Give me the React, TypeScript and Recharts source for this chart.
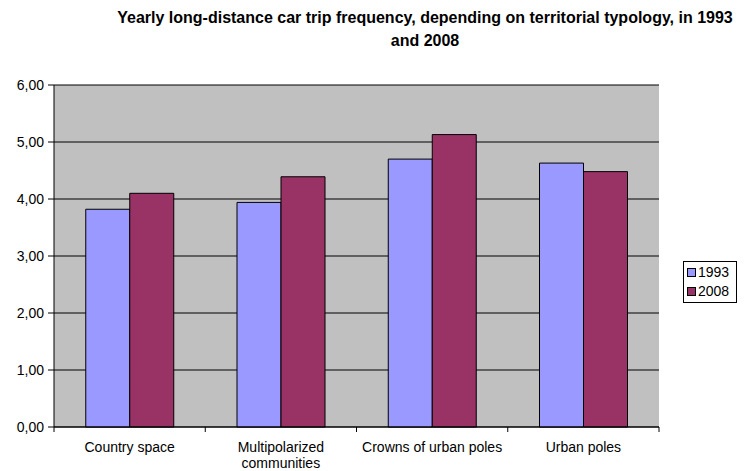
import React from 'react';
import { BarChart, Bar, XAxis, YAxis, CartesianGrid } from 'recharts';

// Territorial typology categories
const categories = [
  'Country space',
  'Multipolarized communities',
  'Crowns of urban poles',
  'Urban poles',
];

// Yearly long-distance car trips per person
const values1993 = [3.82, 3.94, 4.7, 4.63];
const values2008 = [4.1, 4.39, 5.13, 4.48];

const yTicks = [0, 1, 2, 3, 4, 5, 6];

const seriesNames = ['1993', '2008'];
const seriesColors = ['#9999FF', '#993366'];

const data = categories.map((name, i) => ({
  name,
  v1993: values1993[i],
  v2008: values2008[i],
}));

const W = 744;
const H = 471;
const PLOT_LEFT = 54;
const PLOT_RIGHT = 659;
const PLOT_TOP = 85;
const PLOT_BOTTOM = 427;
const STEP = (PLOT_RIGHT - PLOT_LEFT) / categories.length;
const FONT = 'Arial, "Liberation Sans", sans-serif';

const fmt = (v: number) => v.toFixed(2).replace('.', ',');

const CategoryTick = (props: any) => {
  const { x, payload, index } = props;
  const words: string[] = String(payload.value).split(' ');
  // wrap the long label onto two lines
  const lines = payload.value.length > 24 ? [words[0], words.slice(1).join(' ')] : [payload.value];
  const left = x - STEP / 2;
  const right = x + STEP / 2;
  return (
    <g>
      <line x1={left} y1={PLOT_BOTTOM} x2={left} y2={PLOT_BOTTOM + 5} stroke="#000" />
      {index === categories.length - 1 && (
        <line x1={right} y1={PLOT_BOTTOM} x2={right} y2={PLOT_BOTTOM + 5} stroke="#000" />
      )}
      <text x={x} y={PLOT_BOTTOM} textAnchor="middle" fontFamily={FONT} fontSize={14} fill="#000">
        {lines.map((l, i) => (
          <tspan key={i} x={x} dy={i === 0 ? 25 : 16}>
            {l}
          </tspan>
        ))}
      </text>
    </g>
  );
};

const LegendBox = () => (
  <div
    style={{
      position: 'absolute',
      left: 683,
      top: 261,
      width: 46,
      border: '1px solid #000',
      background: '#fff',
      padding: '1px 3px',
      fontFamily: FONT,
      fontSize: 14,
      lineHeight: '19px',
      color: '#000',
    }}
  >
    {seriesNames.map((n, i) => (
      <div key={n} style={{ display: 'flex', alignItems: 'center' }}>
        <span
          style={{
            display: 'inline-block',
            width: 7,
            height: 7,
            background: seriesColors[i],
            border: '1px solid #000',
            marginRight: 2,
          }}
        />
        {n}
      </div>
    ))}
  </div>
);

export default function App() {
  return (
    <div style={{ position: 'absolute', left: 0, top: 0, width: W, height: H, background: '#fff' }}>
      <div
        style={{
          position: 'absolute',
          left: 90,
          top: 6,
          width: 670,
          textAlign: 'center',
          fontFamily: FONT,
          fontWeight: 'bold',
          fontSize: 16,
          lineHeight: '23px',
          color: '#000',
        }}
      >
        Yearly long-distance car trip frequency, depending on territorial typology, in 1993
        <br />
        and 2008
      </div>
      <BarChart
        width={W}
        height={H}
        data={data}
        margin={{ top: PLOT_TOP, right: W - PLOT_RIGHT, bottom: 0, left: 0 }}
        barCategoryGap="21%"
        barGap={0}
      >
        <CartesianGrid vertical={false} fill="#C0C0C0" stroke="#000" strokeOpacity={1} />
        <XAxis
          dataKey="name"
          height={H - PLOT_BOTTOM}
          axisLine={{ stroke: '#000' }}
          tickLine={false}
          tick={<CategoryTick />}
          interval={0}
        />
        <YAxis
          width={PLOT_LEFT}
          domain={[0, 6]}
          ticks={yTicks}
          tickFormatter={fmt}
          axisLine={{ stroke: '#000' }}
          tickLine={{ stroke: '#000' }}
          tickSize={6}
          tickMargin={4}
          tick={{ fill: '#000', fontFamily: FONT, fontSize: 14 }}
          interval={0}
        />
        <Bar dataKey="v1993" name="1993" fill={seriesColors[0]} stroke="#000" strokeWidth={1} isAnimationActive={false} />
        <Bar dataKey="v2008" name="2008" fill={seriesColors[1]} stroke="#000" strokeWidth={1} isAnimationActive={false} />
      </BarChart>
      <LegendBox />
    </div>
  );
}
